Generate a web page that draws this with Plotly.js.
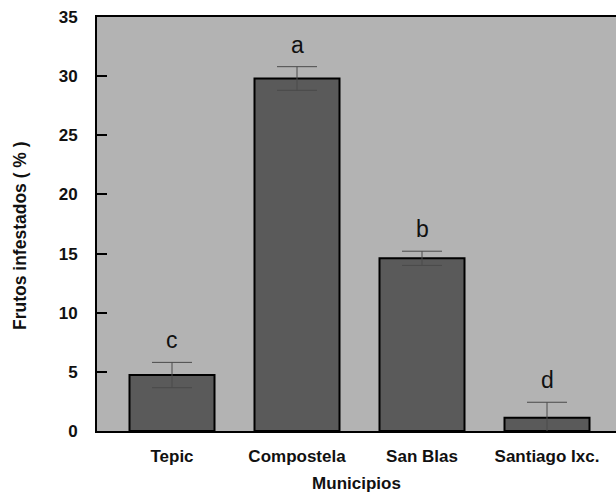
<!DOCTYPE html>
<html>
<head>
<meta charset="utf-8">
<script src="https://cdn.plot.ly/plotly-3.0.1.min.js"></script>
<style>html,body{margin:0;padding:0;background:#fff;}#chart{width:616px;height:494px;}</style>
</head>
<body>
<div id="chart"></div>
<script>
const categories = ["Tepic", "Compostela", "San Blas", "Santiago Ixc."];
const values = [4.73, 29.8, 14.6, 1.13];
const errors = [1.07, 1.0, 0.6, 1.3];
const letters = ["c", "a", "b", "d"];
const yTicks = [0, 5, 10, 15, 20, 25, 30, 35];

const FONT = "Liberation Sans, Arial, sans-serif";

const trace = {
  type: "bar",
  x: [0, 1, 2, 3],
  y: values,
  width: 0.68,
  marker: {color: "#5a5a5a", line: {color: "#000", width: 2}},
  error_y: {type: "data", array: errors, visible: true, color: "#4a4a4a", thickness: 1, width: 20},
  hoverinfo: "none"
};

const annotations = categories.map((c, i) => ({
  x: i, y: values[i] + errors[i], yref: "y", xref: "x",
  text: letters[i], showarrow: false, yanchor: "bottom", yshift: 7,
  font: {family: FONT, size: 23, color: "#111"}
}));

annotations.push({
  xref: "paper", yref: "paper",
  x: (20 - 97) / 519, y: (431 - 236) / 414,
  xanchor: "center", yanchor: "middle",
  textangle: -90, showarrow: false,
  text: "<b>Frutos infestados ( % )</b>",
  font: {family: FONT, size: 17.5, color: "#111"}
});

const layout = {
  width: 616, height: 494,
  margin: {l: 97, r: 0, t: 17, b: 63},
  paper_bgcolor: "#fff",
  plot_bgcolor: "#b3b3b3",
  showlegend: false,
  font: {family: FONT, color: "#111"},
  xaxis: {
    range: [-0.6, 3.552],
    tickvals: [0, 1, 2, 3],
    ticktext: categories,
    showline: true, linecolor: "#000", linewidth: 2, mirror: true,
    ticks: "", showgrid: false, zeroline: false,
    ticklabelstandoff: 9,
    tickfont: {size: 17, family: FONT, weight: "bold", color: "#111"},
    title: {text: "<b>Municipios</b>", font: {size: 17, color: "#111"}, standoff: 12}
  },
  yaxis: {
    range: [0, 35],
    tickvals: yTicks,
    ticks: "inside", ticklen: 10, tickwidth: 2, tickcolor: "#000",
    showline: true, linecolor: "#000", linewidth: 2, mirror: false,
    showgrid: false, zeroline: false,
    ticklabelstandoff: 14,
    tickfont: {size: 17, family: FONT, weight: "bold", color: "#111"}
  },
  annotations: annotations
};

Plotly.newPlot("chart", [trace], layout, {displayModeBar: false, staticPlot: true});
</script>
</body>
</html>
